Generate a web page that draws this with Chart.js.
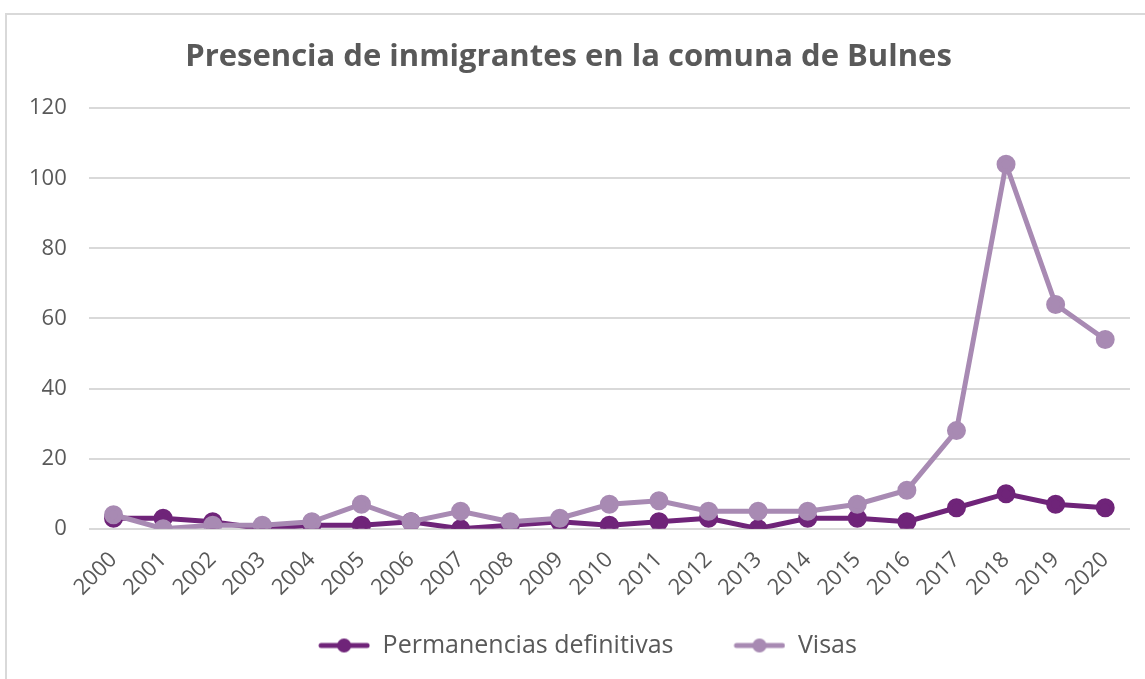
<!DOCTYPE html>
<html>
<head>
<meta charset="utf-8">
<script src="https://cdn.jsdelivr.net/npm/chart.js@4"></script>
<style>
  body { margin: 0; background: #fff; }
  #frame { position: absolute; left: 5px; top: 13px; width: 1145px; height: 670px;
           border-top: 2px solid #d9d9d9; border-left: 2px solid #d9d9d9; }
  #wrap { position: absolute; left: 0; top: 0; width: 1145px; height: 679px; }
</style>
</head>
<body>
<div id="frame"></div>
<div id="wrap"><canvas id="myChart"></canvas></div>
<script>
const years = ['2000', '2001', '2002', '2003', '2004', '2005', '2006', '2007', '2008', '2009', '2010',
    '2011', '2012', '2013', '2014', '2015', '2016', '2017', '2018', '2019', '2020'];
const permanencias = [3, 3, 2, 0, 1, 1, 2, 0, 1, 2, 1, 2, 3, 0, 3, 3, 2, 6, 10, 7, 6];
const visas = [4, 0, 1, 1, 2, 7, 2, 5, 2, 3, 7, 8, 5, 5, 5, 7, 11, 28, 104, 64, 54];
const yTicks = [0, 20, 40, 60, 80, 100, 120];

const darkPurple = '#6f2479';
const lightPurple = '#a88ab3';
const textGray = '#595959';

// legend marker: short line with a dot, blank space on the left to push items apart
function legendMarker(color) {
    const c = document.createElement('canvas');
    c.width = 90;
    c.height = 18;
    const g = c.getContext('2d');
    g.strokeStyle = color;
    g.lineWidth = 5;
    g.lineCap = 'round';
    g.beginPath();
    g.moveTo(41, 9);
    g.lineTo(87, 9);
    g.stroke();
    g.fillStyle = color;
    g.beginPath();
    g.arc(64, 9, 7, 0, Math.PI * 2);
    g.fill();
    return c;
}

let ctx = document.getElementById('myChart').getContext('2d');

new Chart(ctx, {
    type: 'line',
    data: {
        labels: years,
        datasets: [
            {
                label: 'Permanencias definitivas',
                data: permanencias,
                borderColor: darkPurple,
                backgroundColor: darkPurple,
                borderWidth: 5,
                pointRadius: 7,
                pointHoverRadius: 7,
                order: 1,
            },
            {
                label: 'Visas',
                data: visas,
                borderColor: lightPurple,
                backgroundColor: lightPurple,
                borderWidth: 5,
                pointRadius: 7,
                pointHoverRadius: 7,
                order: 0,
            },
        ],
    },
    options: {
        responsive: true,
        maintainAspectRatio: false,
        animation: false,
        layout: {
            padding: { left: 7, right: 15, top: 39, bottom: 11 },
        },
        scales: {
            x: {
                offset: true,
                grid: { display: false },
                border: { display: false },
                ticks: {
                    color: textGray,
                    font: { family: 'Open Sans', size: 22 },
                    minRotation: 45,
                    maxRotation: 45,
                    padding: 10,
                },
            },
            y: {
                min: 0,
                max: 120,
                afterBuildTicks: (axis) => {
                    axis.ticks = yTicks.map((v) => ({ value: v }));
                },
                grid: { color: '#d9d9d9', lineWidth: 2, drawTicks: false },
                border: { display: false },
                ticks: {
                    color: textGray,
                    font: { family: 'Open Sans', size: 22 },
                    padding: 22,
                },
            },
        },
        plugins: {
            title: {
                display: true,
                text: 'Presencia de inmigrantes en la comuna de Bulnes',
                color: textGray,
                font: { family: 'Open Sans', size: 31, weight: 'bold' },
                padding: { top: 0, bottom: 32 },
            },
            legend: {
                position: 'bottom',
                labels: {
                    color: textGray,
                    font: { family: 'Open Sans', size: 25 },
                    usePointStyle: true,
                    pointStyleWidth: 90,
                    padding: 22,
                    sort: (a, b) => a.datasetIndex - b.datasetIndex,
                    generateLabels: (chart) => chart.data.datasets.map((ds, i) => ({
                        text: ds.label,
                        fontColor: textGray,
                        pointStyle: legendMarker(ds.borderColor),
                        fillStyle: ds.borderColor,
                        strokeStyle: ds.borderColor,
                        lineWidth: 0,
                        datasetIndex: i,
                        hidden: false,
                    })),
                },
            },
            tooltip: { enabled: false },
        },
    },
});
</script>
</body>
</html>
